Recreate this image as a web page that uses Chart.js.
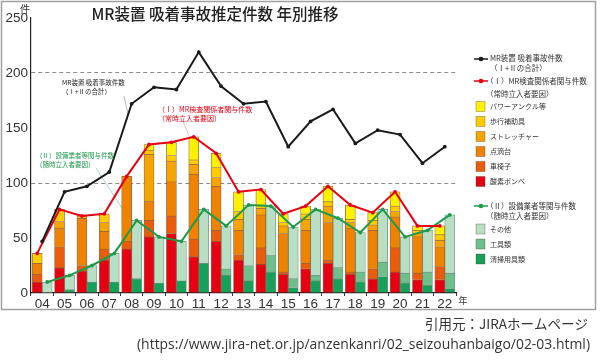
<!DOCTYPE html>
<html>
<head>
<meta charset="utf-8">
<script src="https://cdn.jsdelivr.net/npm/chart.js@4.4.1/dist/chart.umd.min.js"></script>
<style>
  html, body { margin: 0; padding: 0; background: #fff; }
  #wrap { position: relative; width: 600px; height: 363px; }
</style>
</head>
<body>
<div id="wrap"><canvas id="chart" width="600" height="363"></canvas></div>
<script>
// ===== DATA =====
const years = ['04','05','06','07','08','09','10','11','12','13','14','15','16','17','18','19','20','21','22'];

// (I) MR検査関係者関与 — stacked segments, bottom to top
const oxygen     = [10, 23, 20, 30, 40, 51, 54, 33, 47, 30, 26, 17, 22, 27, 17, 13, 19, 12, 12];
const wheelchair = [ 7, 19,  5, 10,  7, 15, 16, 16, 10,  5, 15,  2,  5,  3,  2,  9, 22,  6, 12];
const drip       = [10, 17, 43, 16, 59, 17, 31, 59, 40, 22, 30, 35, 30, 34, 40, 35, 28, 33, 18];
const stretcher  = [ 0,  6,  0,  8,  0, 43, 19,  9,  8, 10,  6,  7, 10, 15,  5,  5,  5,  3,  6];
const walker     = [ 9, 11,  2,  8,  0,  4,  5,  4,  9,  7,  3,  3,  5,  4,  3,  4,  5,  3,  5];
const powerAnkle = [ 0,  0,  0,  0,  0,  5, 12, 21, 13, 18, 14,  8,  7, 14, 13,  7, 13,  4,  8];

// (II) 設備業者等関与 — stacked segments, bottom to top
const cleaning = [ 0,  3, 10, 10, 13,  9, 11, 27, 16, 11, 19,  5, 11, 13, 10, 15,  9,  7,  4];
const tools    = [ 0,  0,  0,  0,  0,  0,  0,  0,  6, 14, 15,  8,  5, 10,  9, 13,  9, 12, 14];
const other    = [10, 13, 15, 26, 53, 42, 36, 49, 39, 55, 45, 47, 60, 45, 36, 48, 33, 38, 53];

// line series
const totalLine = [47, 92, 97, 110, 172, 187, 185, 219, 188, 172, 174, 133, 156, 167, 136, 148, 144, 118, 133];
const groupI    = [36, 76, 70,  72, 106, 135, 137, 142, 127,  92,  94,  72,  79,  97,  80,  73,  92,  61,  61];
const groupII   = [10, 16, 25,  36,  66,  51,  47,  76,  61,  80,  79,  60,  76,  68,  55,  76,  51,  57,  71];

const yTicks = [0, 50, 100, 150, 200, 250];

// ===== STYLE =====
const jp = '"Noto Sans CJK JP", "Noto Sans", sans-serif';
const num = '"Liberation Sans", Arial, sans-serif';
const C = {
  oxygen: '#E60012', wheelchair: '#EA5B0C', drip: '#EF8200', stretcher: '#F6A500',
  walker: '#FFCC00', power: '#FFF100',
  cleaning: '#16A05A', tools: '#6DBF8C', other: '#B8DEC4',
  black: '#1a1a1a', red: '#E60012', green: '#1E9B4A'
};

function segI(label, data, color) {
  return { type: 'bar', label, data, backgroundColor: color, borderColor: 'rgba(105,60,15,0.75)',
    borderWidth: 0.8, stack: 'I', order: 1, barThickness: 10 };
}
function segII(label, data, color) {
  return { type: 'bar', label, data, backgroundColor: color, borderColor: 'rgba(80,110,90,0.75)',
    borderWidth: 0.8, stack: 'II', order: 1, barThickness: 10 };
}
function lineSet(label, data, color, stack, follow) {
  return { type: 'line', label, data, borderColor: color, backgroundColor: color, borderWidth: 2,
    pointRadius: 1.9, pointBorderWidth: 0, pointBackgroundColor: color, tension: 0,
    stack, order: 0, follow };
}

function txt(ctx, s, x, y, font, color, align) {
  ctx.font = font;
  ctx.fillStyle = color;
  ctx.textAlign = align || 'left';
  ctx.textBaseline = 'middle';
  ctx.fillText(s, x, y);
}
function seg(ctx, x1, y1, x2, y2, color, w) {
  ctx.strokeStyle = color;
  ctx.lineWidth = w;
  ctx.beginPath(); ctx.moveTo(x1, y1); ctx.lineTo(x2, y2); ctx.stroke();
}

// group lines sit over the centre of their own bar, not the category centre
const alignLines = {
  id: 'alignLines',
  afterDatasetsUpdate(chart) {
    const sets = chart.data.datasets;
    sets.forEach((ds, idx) => {
      if (!ds.follow) return;
      const barIdx = sets.findIndex(d => d.type === 'bar' && d.stack === ds.follow);
      const bars = chart.getDatasetMeta(barIdx).data;
      chart.getDatasetMeta(idx).data.forEach((pt, i) => { if (bars[i]) pt.x = bars[i].x; });
    });
  }
};

// ===== DECORATIONS: frame, title, notes, legend, source =====
const decorations = {
  id: 'decorations',
  beforeDatasetsDraw(chart) {
    const ctx = chart.ctx;
    ctx.save();
    seg(ctx, 124, 96, 128, 114, '#9a9a9a', 0.7);
    seg(ctx, 183, 121, 189, 136, 'rgba(230,0,18,0.4)', 0.7);
    seg(ctx, 96, 168, 131, 222, '#8fd0a8', 0.8);
    ctx.restore();
  },
  afterDraw(chart) {
    const ctx = chart.ctx;
    ctx.save();
    // frame
    ctx.strokeStyle = '#a0a0a0';
    ctx.lineWidth = 1.5;
    ctx.strokeRect(1.5, 1.5, 594, 308);

    txt(ctx, 'MR装置 吸着事故推定件数 年別推移', 215, 14, '500 15.5px ' + jp, '#222', 'center');
    txt(ctx, '件', 25, 9, '10px ' + jp, '#333', 'center');
    txt(ctx, '年', 463, 301, '9px ' + jp, '#333', 'center');

    // notes inside the plot
    txt(ctx, 'MR装置 吸着事故件数', 62, 83, '6.5px ' + jp, '#222');
    txt(ctx, '（Ⅰ+Ⅱの合計）', 62, 92, '6.5px ' + jp, '#222');
    txt(ctx, '（Ⅰ）MR検査関係者関与件数', 158, 109, '7px ' + jp, C.red);
    txt(ctx, '（常時立入者要因）', 158, 118, '7px ' + jp, C.red);
    txt(ctx, '（Ⅱ）設備業者等関与件数', 36, 156, '6.5px ' + jp, C.green);
    txt(ctx, '（随時立入者要因）', 36, 165, '6.5px ' + jp, C.green);

    // legend
    const lx = 490;
    const hFont = '7.5px ' + jp, sFont = '7px ' + jp;
    function lineMark(y, color) {
      seg(ctx, 474, y, 488, y, color, 1.5);
      ctx.fillStyle = color;
      ctx.beginPath(); ctx.arc(481, y, 2.3, 0, Math.PI * 2); ctx.fill();
    }
    function swatch(y, color, label) {
      ctx.fillStyle = color;
      ctx.fillRect(476, y - 5, 9, 10);
      ctx.strokeStyle = 'rgba(90,70,40,0.6)';
      ctx.lineWidth = 0.6;
      ctx.strokeRect(476, y - 5, 9, 10);
      txt(ctx, label, lx, y, sFont, '#333');
    }
    lineMark(59, C.black);
    txt(ctx, 'MR装置 吸着事故件数', lx, 58, hFont, '#333');
    txt(ctx, '（Ⅰ+Ⅱの合計）', lx, 68, hFont, '#333');
    lineMark(81, C.red);
    txt(ctx, '（Ⅰ）MR検査関係者関与件数', 486, 81, hFont, '#333');
    txt(ctx, '（常時立入者要因）', 486, 94, hFont, '#333');
    swatch(106.5, C.power, 'パワーアンクル等');
    swatch(121.5, C.walker, '歩行補助具');
    swatch(136.5, C.stretcher, 'ストレッチャー');
    swatch(151.5, C.drip, '点滴台');
    swatch(166.5, C.wheelchair, '車椅子');
    swatch(181.5, C.oxygen, '酸素ボンベ');
    lineMark(206, C.green);
    txt(ctx, '（Ⅱ）設備業者等関与件数', 486, 206, hFont, '#333');
    txt(ctx, '（随時立入者要因）', 486, 216, hFont, '#333');
    swatch(229, C.other, 'その他');
    swatch(244, C.tools, '工具類');
    swatch(259, C.cleaning, '清掃用具類');

    // source
    txt(ctx, '引用元：JIRAホームページ', 588, 324, '13.5px ' + jp, '#333', 'right');
    ctx.font = '14px "Open Sans", sans-serif';
    ctx.textAlign = 'right';
    ctx.fillText('(https://www.jira-net.or.jp/anzenkanri/02_seizouhanbaigo/02-03.html)', 590, 345, 453);
    ctx.restore();
  }
};

new Chart(document.getElementById('chart'), {
  type: 'bar',
  data: {
    labels: years,
    datasets: [
      lineSet('MR装置 吸着事故件数（Ⅰ+Ⅱの合計）', totalLine, C.black, 'lt', null),
      lineSet('（Ⅰ）MR検査関係者関与件数', groupI, C.red, 'lr', 'I'),
      lineSet('（Ⅱ）設備業者等関与件数', groupII, C.green, 'lg', 'II'),
      segI('酸素ボンベ', oxygen, C.oxygen),
      segI('車椅子', wheelchair, C.wheelchair),
      segI('点滴台', drip, C.drip),
      segI('ストレッチャー', stretcher, C.stretcher),
      segI('歩行補助具', walker, C.walker),
      segI('パワーアンクル等', powerAnkle, C.power),
      segII('清掃用具類', cleaning, C.cleaning),
      segII('工具類', tools, C.tools),
      segII('その他', other, C.other)
    ]
  },
  options: {
    responsive: false,
    animation: false,
    layout: { padding: { left: 0, right: 144, top: 18, bottom: 50 } },
    plugins: { legend: { display: false }, tooltip: { enabled: false }, title: { display: false } },
    scales: {
      x: {
        type: 'category',
        stacked: true,
        offset: true,
        grid: { display: true, drawOnChartArea: false, tickLength: 3, color: '#333', offset: true },
        border: { display: true, color: '#222', width: 1.2 },
        ticks: { font: { family: num, size: 13.5 }, color: '#333', padding: 0, maxRotation: 0, autoSkip: false },
        afterFit: s => { s.height = 20; }
      },
      y: {
        stacked: true,
        min: yTicks[0],
        max: yTicks[yTicks.length - 1],
        afterBuildTicks: s => { s.ticks = yTicks.map(v => ({ value: v })); },
        ticks: { font: { family: num, size: 13.5 }, color: '#333', padding: 3 },
        grid: {
          drawTicks: false,
          lineWidth: 1,
          color: c => (c.tick && (c.tick.value === 100 || c.tick.value === 200)) ? '#8c8c8c' : 'rgba(0,0,0,0)'
        },
        border: { display: true, color: '#222', width: 1.2, dash: [4, 3] },
        afterFit: s => { s.width = 31; }
      }
    }
  },
  plugins: [alignLines, decorations]
});
</script>
</body>
</html>
